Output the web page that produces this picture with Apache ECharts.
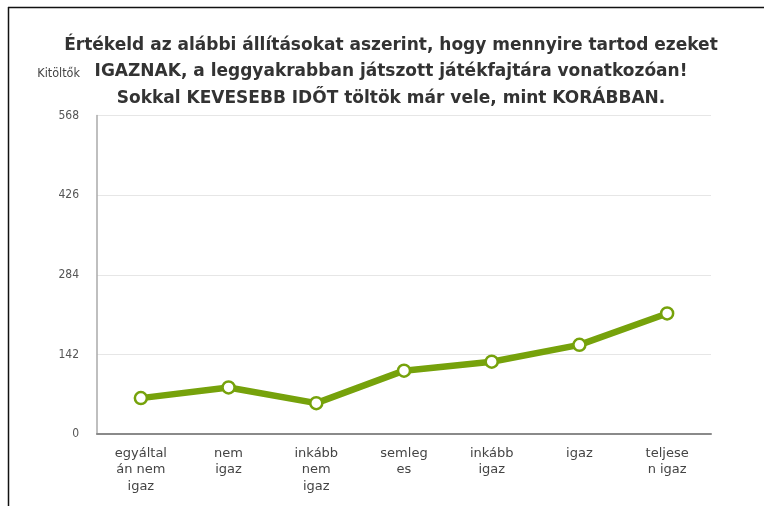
<!DOCTYPE html>
<html>
<head>
<meta charset="utf-8">
<script src="https://cdn.jsdelivr.net/npm/echarts@6/dist/echarts.min.js"></script>
<style>
  html, body { margin: 0; padding: 0; background: #fff; }
  #main { width: 764px; height: 506px; }
</style>
</head>
<body>
<div id="main"></div>
<script>
var categories = ['egyáltalán nem igaz', 'nem igaz', 'inkább nem igaz', 'semleges', 'inkább igaz', 'igaz', 'teljesen igaz'];
// labels as they wrap in the original
var tickLabels = ['egyáltal\nán nem\nigaz', 'nem\nigaz', 'inkább\nnem\nigaz', 'semleg\nes', 'inkább\nigaz', 'igaz', 'teljese\nn igaz'];
var respondents = [64, 83, 55, 113, 129, 159, 215];
var yTicks = [0, 142, 284, 426, 568];

var titleText = 'Értékeld az alábbi állításokat aszerint, hogy mennyire tartod ezeket\nIGAZNAK, a leggyakrabban játszott játékfajtára vonatkozóan!\nSokkal KEVESEBB IDŐT töltök már vele, mint KORÁBBAN.';

var myChart = echarts.init(document.getElementById('main'));

var option = {
    backgroundColor: '#fff',
    animation: false,
    title: {
        text: titleText,
        left: 386,
        textAlign: 'center',
        top: 27,
        textStyle: {
            fontFamily: 'DejaVu Sans',
            fontSize: 17,
            fontWeight: 'bold',
            color: '#333',
            lineHeight: 26.5
        }
    },
    graphic: [
        { type: 'line', shape: { x1: 8, y1: 7.5, x2: 764, y2: 7.5 }, style: { stroke: '#111', lineWidth: 1.5 } },
        { type: 'line', shape: { x1: 8.5, y1: 7, x2: 8.5, y2: 506 }, style: { stroke: '#111', lineWidth: 1.5 } }
    ],
    grid: {
        left: 97,
        right: 53,
        top: 115.6,
        bottom: 72
    },
    xAxis: {
        type: 'category',
        data: categories,
        axisLine: { lineStyle: { color: '#8a8a8a', width: 2 } },
        axisTick: { show: false },
        axisLabel: {
            margin: 11,
            fontFamily: 'DejaVu Sans',
            fontSize: 13,
            color: '#444',
            lineHeight: 16.5,
            interval: 0,
            formatter: function (v, i) { return tickLabels[i]; }
        }
    },
    yAxis: {
        type: 'value',
        min: yTicks[0],
        max: yTicks[yTicks.length - 1],
        interval: yTicks[1] - yTicks[0],
        name: 'Kitöltők',
        nameLocation: 'end',
        nameGap: 35,
        nameTextStyle: {
            fontFamily: 'DejaVu Sans Condensed',
            fontSize: 12.5,
            color: '#444',
            align: 'right',
            padding: [0, 17, 0, 0]
        },
        axisLine: { show: true, lineStyle: { color: '#aaa', width: 1.5 } },
        axisTick: { show: false },
        axisLabel: {
            margin: 18,
            fontFamily: 'DejaVu Sans Condensed',
            fontSize: 12,
            color: '#555'
        },
        splitLine: { lineStyle: { color: '#e6e6e6', width: 1 } }
    },
    series: [
        {
            name: 'Kitöltők',
            type: 'line',
            data: respondents,
            symbol: 'circle',
            symbolSize: 12,
            lineStyle: { color: '#76a20b', width: 6.5 },
            itemStyle: { color: '#fff', borderColor: '#76a20b', borderWidth: 2.5 }
        }
    ]
};

myChart.setOption(option);
</script>
</body>
</html>
